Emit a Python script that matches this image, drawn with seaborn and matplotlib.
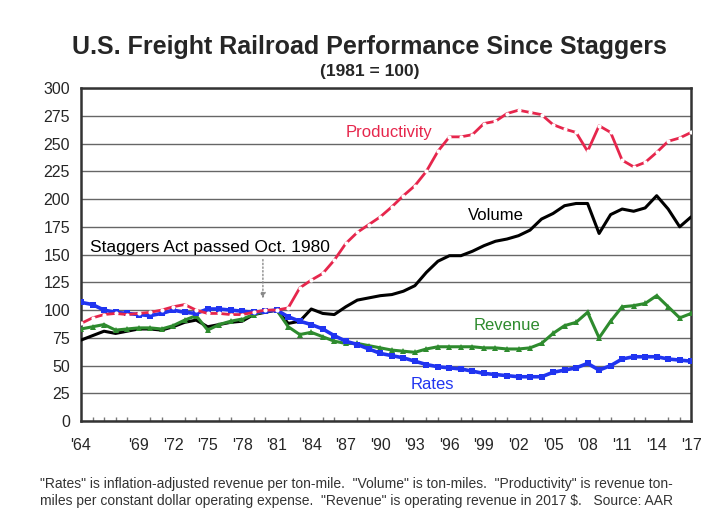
import numpy as np
import pandas as pd
import matplotlib
matplotlib.use("Agg")
import matplotlib.pyplot as plt
from matplotlib.ticker import MultipleLocator
import seaborn as sns

# values (1981 = 100)
years = list(range(1964, 2018))
productivity = [88, 93, 96, 97, 96, 97, 98, 100, 103, 105, 100, 97, 97, 96, 96, 98, 100, 100,
                102, 120, 127, 133, 145, 160, 170, 177, 184, 193, 203, 212, 225, 243, 256, 256,
                258, 268, 270, 277, 280, 278, 276, 267, 263, 260, 243, 266, 260, 235, 229, 233,
                242, 252, 255, 260]
volume = [73, 77, 81, 79, 81, 83, 83, 82, 85, 89, 91, 85, 87, 89, 90, 96, 98, 100,
          88, 90, 101, 97, 96, 103, 109, 111, 113, 114, 117, 122, 134, 144, 149, 149,
          153, 158, 162, 164, 167, 172, 182, 187, 194, 196, 196, 169, 186, 191, 189, 192,
          203, 191, 175, 184]
revenue = [83, 85, 87, 82, 83, 84, 84, 83, 86, 91, 95, 82, 87, 90, 92, 96, 99, 100,
           85, 78, 80, 76, 72, 70, 70, 68, 66, 64, 63, 62, 65, 67, 67, 67,
           67, 66, 66, 65, 65, 66, 70, 79, 86, 89, 98, 75, 90, 103, 104, 106,
           113, 103, 93, 97]
rates = [107, 105, 100, 98, 97, 96, 95, 97, 100, 98, 97, 101, 101, 100, 99, 98, 99, 100,
         94, 90, 87, 83, 77, 72, 69, 65, 61, 59, 57, 54, 51, 49, 48, 47,
         45, 43, 42, 41, 40, 40, 40, 44, 46, 48, 52, 46, 50, 56, 58, 58,
         58, 56, 55, 54]
tick_years = [1964, 1969, 1972, 1975, 1978, 1981, 1984, 1987, 1990, 1993, 1996, 1999,
              2002, 2005, 2008, 2011, 2014, 2017]

sns.set_theme(style="white")
plt.rcParams["font.family"] = ["Liberation Sans", "DejaVu Sans"]

fig = plt.figure(figsize=(7.2, 5.13), dpi=100)
ax = fig.add_axes([0.1125, 0.179, 0.8475, 0.6495])

red = "#E6264C"
blue = "#2034F0"
green = "#2E8B2E"

sns.lineplot(x=years, y=volume, ax=ax, color="black", linewidth=2.2, zorder=3)
sns.lineplot(x=years, y=revenue, ax=ax, color=green, linewidth=2.2, marker="^",
             markersize=4, markeredgewidth=0, zorder=4)
sns.lineplot(x=years, y=rates, ax=ax, color=blue, linewidth=2.6, marker="s",
             markersize=4.5, markeredgewidth=0, zorder=5)
sns.lineplot(x=years, y=productivity, ax=ax, color=red, linewidth=2.0, marker="o",
             markersize=3, markerfacecolor="white", markeredgewidth=0, zorder=6)

ax.set_xlim(1964, 2017)
ax.set_ylim(0, 300)
ax.yaxis.set_major_locator(MultipleLocator(25))
ax.set_xticks(tick_years)
ax.set_xticklabels(["'" + str(y)[2:] for y in tick_years])
ax.xaxis.set_minor_locator(MultipleLocator(1))
ax.tick_params(axis="x", which="major", direction="in", length=4, color="#555555",
               labelsize=11.5, pad=12)
ax.tick_params(axis="x", which="minor", direction="in", length=3, color="#777777",
               bottom=True)
ax.tick_params(axis="y", which="major", length=0, labelsize=11.5, pad=8)
ax.grid(axis="y", color="#666666", linewidth=1.0)
ax.set_axisbelow(True)
for s in ax.spines.values():
    s.set_color("#333333")
    s.set_linewidth(1.8)

ax.text(1987.0, 256, "Productivity", color=red, fontsize=12)
ax.text(1997.6, 181, "Volume", color="black", fontsize=12)
ax.text(1998.1, 82, "Revenue", color=green, fontsize=12)
ax.text(1992.6, 29, "Rates", color=blue, fontsize=12)
ax.text(1964.8, 152, "Staggers Act passed Oct. 1980", color="black", fontsize=12.5)
ax.annotate("", xy=(1979.8, 108), xytext=(1979.8, 148),
            arrowprops=dict(arrowstyle="-|>", color="#888888", lw=1, ls=":",
                            mutation_scale=8))

fig.text(0.513, 0.895, "U.S. Freight Railroad Performance Since Staggers",
         ha="center", fontsize=18, fontweight="bold")
fig.text(0.513, 0.852, "(1981 = 100)", ha="center", fontsize=12.5, fontweight="bold")
fig.text(0.056, 0.016,
         "\"Rates\" is inflation-adjusted revenue per ton-mile.  \"Volume\" is ton-miles.  "
         "\"Productivity\" is revenue ton-\nmiles per constant dollar operating expense.  "
         "\"Revenue\" is operating revenue in 2017 $.   Source: AAR",
         fontsize=10, color="#333333", linespacing=1.25)

fig.savefig("out.png", dpi=100, facecolor="white")
